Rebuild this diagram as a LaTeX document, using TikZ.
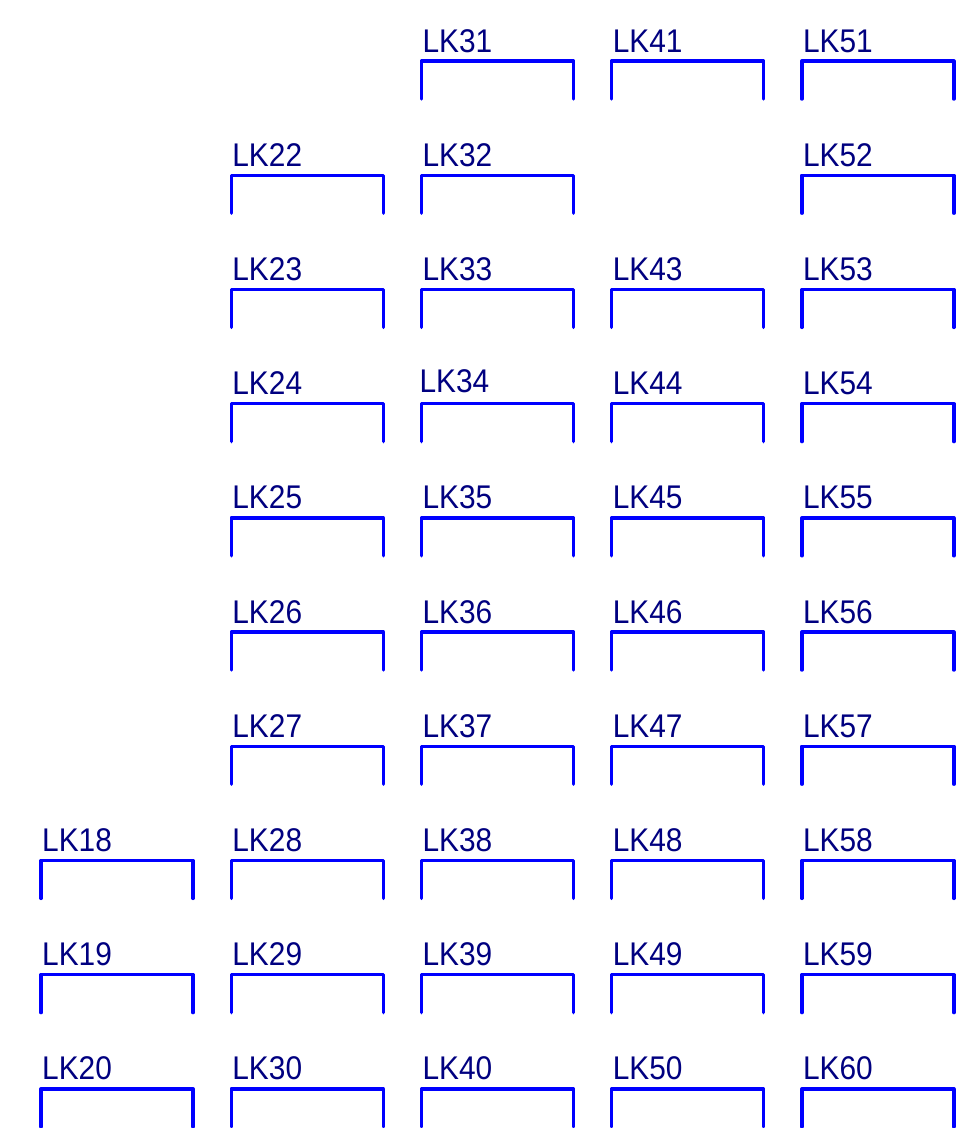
\documentclass[tikz,border=0pt]{standalone}
\usepackage{fontspec}
\setmainfont{Liberation Sans}
\newfontfamily\lblfont[FakeStretch=0.91]{Liberation Sans}
\definecolor{brk}{RGB}{0,0,255}
\definecolor{lblc}{RGB}{0,0,128}
\begin{document}
\begin{tikzpicture}[x=1pt,y=-1pt,
  bracket/.style={draw=brk, line width=3.4pt, line cap=round, line join=round},
  lbl/.style={anchor=base west, inner sep=0pt, text=lblc, font=\lblfont\fontsize{32.8}{34}\selectfont}]
\useasboundingbox[fill=white] (0,0) rectangle (968,1128);
\foreach \c/\r/\t/\dx/\dy in {
  3/1/31/1/-9, 4/1/41/1/-9, 5/1/51/1/-9,
  2/2/22/1/-9, 3/2/32/1/-9, 5/2/52/1/-9,
  2/3/23/1/-9, 3/3/33/1/-9, 4/3/43/1/-9, 5/3/53/1/-9,
  2/4/24/1/-9, 3/4/34/-2/-11, 4/4/44/1/-9, 5/4/54/1/-9,
  2/5/25/1/-9, 3/5/35/1/-9, 4/5/45/1/-9, 5/5/55/1/-9,
  2/6/26/1/-9, 3/6/36/1/-9, 4/6/46/1/-9, 5/6/56/1/-9,
  2/7/27/1/-9, 3/7/37/1/-9, 4/7/47/1/-9, 5/7/57/1/-9,
  1/8/18/1/-9, 2/8/28/1/-9, 3/8/38/1/-9, 4/8/48/1/-9, 5/8/58/1/-9,
  1/9/19/1/-9, 2/9/29/1/-9, 3/9/39/1/-9, 4/9/49/1/-9, 5/9/59/1/-9,
  1/10/20/1/-9, 2/10/30/1/-9, 3/10/40/1/-9, 4/10/50/1/-9, 5/10/60/1/-9}{
  \coordinate (b\t) at ({41+190.2*(\c-1)},{61+114.2*(\r-1)});
  \draw[bracket] (b\t) ++(0,38) -- ++(0,-38) -- ++(152,0) -- ++(0,38);
  \node[lbl] (l\t) at ([shift={(\dx,\dy)}]b\t) {LK\t};
}
\end{tikzpicture}
\end{document}
